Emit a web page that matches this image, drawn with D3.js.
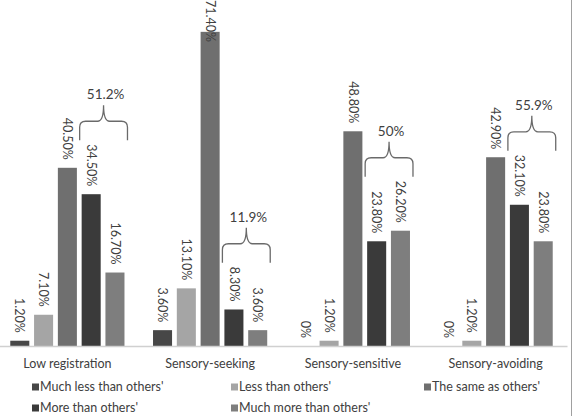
<!DOCTYPE html>
<html>
<head>
<meta charset="utf-8">
<script src="https://cdn.jsdelivr.net/npm/d3@7/dist/d3.min.js"></script>
<style>
  html, body { margin: 0; padding: 0; background: #fff; }
  svg { display: block; font-family: Lato, "Open Sans", sans-serif; }
</style>
</head>
<body>
<svg id="chart" width="579" height="416"></svg>
<script>
// categories and series
const categories = ["Low registration", "Sensory-seeking", "Sensory-sensitive", "Sensory-avoiding"]
const series = ["Much less than others'", "Less than others'", "The same as others'", "More than others'", "Much more than others'"]
const colors = ["#474747", "#a5a5a5", "#6f6f6f", "#3a3a3a", "#7e7e7e"]

// values in %, one array per series (order follows categories)
const muchLess = [1.2, 3.6, 0, 0]
const less = [7.1, 13.1, 1.2, 1.2]
const same = [40.5, 71.4, 48.8, 42.9]
const more = [34.5, 8.3, 23.8, 32.1]
const muchMore = [16.7, 3.6, 26.2, 23.8]
const seriesValues = [muchLess, less, same, more, muchMore]

// brace annotations over "More" + "Much more"
const braceLabels = ["51.2%", "11.9%", "50%", "55.9%"]

const svg = d3.select("#chart")
const textColor = "#404040"

const x0 = d3.scaleBand().domain(categories).range([-4, 567]).padding(0)
const x1 = d3.scaleBand().domain(series).range([0, x0.bandwidth()])
             .paddingInner(0.2).paddingOuter(0.6)
const y = d3.scaleLinear().domain([0, 80]).range([346, -6])

let rows = []
categories.forEach((c, i) => {
    series.forEach((s, j) => {
        rows.push({cat: c, ser: s, idx: j, value: seriesValues[j][i]})
    })
})

// bars
svg.append("g").selectAll("rect")
    .data(rows)
    .enter()
    .append("rect")
    .attr("x", d => x0(d.cat) + x1(d.ser))
    .attr("y", d => y(d.value))
    .attr("width", x1.bandwidth())
    .attr("height", d => y(0) - y(d.value))
    .attr("fill", d => colors[d.idx])

// axis
const axis = svg.append("g")
    .attr("transform", `translate(0,${y(0)})`)
    .call(d3.axisBottom(x0).tickSize(0).tickPadding(13))
axis.select(".domain").attr("stroke", "#d0d0d0").attr("stroke-width", 1.5)
axis.selectAll("text").attr("fill", textColor).attr("font-size", 12.5)
    .attr("font-family", "Lato, 'Open Sans', sans-serif")

// value labels, rotated
const labels = svg.append("g").selectAll("text")
    .data(rows)
    .enter()
    .append("text")
    .attr("font-size", 12.5)
    .attr("fill", textColor)
    .attr("text-anchor", "end")
    .attr("dy", "0.35em")
    .text(d => d.value === 0 ? "0%" : d.value.toFixed(2) + "%")
labels.each(function(d) {
    const len = this.getComputedTextLength()
    const cx = x0(d.cat) + x1(d.ser) + x1.bandwidth() / 2
    let endY = y(d.value) - 8
    if (endY - len < 0) endY = len // keep tall label inside the top edge
    d.labelTop = endY - len
    d3.select(this).attr("transform", `translate(${cx},${endY}) rotate(90)`)
})

// braces
const braceG = svg.append("g")
categories.forEach((c, i) => {
    const b4 = rows.find(r => r.cat === c && r.idx === 3)
    const b5 = rows.find(r => r.cat === c && r.idx === 4)
    const xa = x0(c) + x1(series[3]) - 2
    const xb = x0(c) + x1(series[4]) + x1.bandwidth() + 3
    const xm = (xa + xb) / 2
    const yh = Math.min(b4.labelTop, b5.labelTop) - 23
    const yb = yh + 19, yt = yh - 16, r = 6
    const p = d3.path()
    p.moveTo(xa, yb)
    p.lineTo(xa, yh + r)
    p.quadraticCurveTo(xa, yh, xa + r, yh)
    p.lineTo(xm - r, yh)
    p.quadraticCurveTo(xm, yh, xm, yt)
    p.quadraticCurveTo(xm, yh, xm + r, yh)
    p.lineTo(xb - r, yh)
    p.quadraticCurveTo(xb, yh, xb, yh + r)
    p.lineTo(xb, yb)
    braceG.append("path")
        .attr("d", p.toString())
        .attr("fill", "none")
        .attr("stroke", "#6a6a6a")
        .attr("stroke-width", 1.3)
    braceG.append("text")
        .attr("x", xm + 2)
        .attr("y", yt - 6)
        .attr("text-anchor", "middle")
        .attr("font-size", 13.5)
        .attr("fill", textColor)
        .text(braceLabels[i])
})

// legend
const legendX = [32, 231, 424]
const legendY = [387, 408]
const legend = svg.append("g").selectAll("g")
    .data(series)
    .enter()
    .append("g")
    .attr("transform", (d, i) => `translate(${legendX[i % 3]},${legendY[Math.floor(i / 3)]})`)
legend.append("rect")
    .attr("x", 0).attr("y", -3.5)
    .attr("width", 7).attr("height", 7)
    .attr("fill", (d, i) => colors[i])
legend.append("text")
    .attr("x", 8)
    .attr("dy", "0.35em")
    .attr("font-size", 12.5)
    .attr("fill", textColor)
    .text(d => d)

// right border
svg.append("line")
    .attr("x1", 571.5).attr("x2", 571.5)
    .attr("y1", 0).attr("y2", 416)
    .attr("stroke", "#a0a0a0")
    .attr("stroke-width", 1)
</script>
</body>
</html>
